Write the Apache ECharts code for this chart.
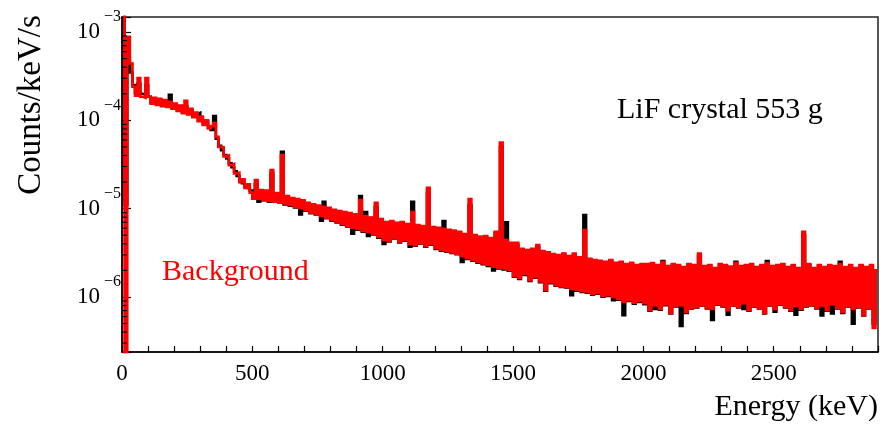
<!DOCTYPE html>
<html><head><meta charset="utf-8">
<script src="https://cdn.jsdelivr.net/npm/echarts@6/dist/echarts.min.js"></script>
<style>html,body{margin:0;padding:0;background:#fff}#c{width:892px;height:426px}</style>
</head><body><div id="c"></div>
<script>
// Histogram bins: 10 keV wide, starting at 0 keV
const binWidth = 10;
const energyMin = 0;
const energyMax = 2900;

// Background spectrum (red), counts/keV/s per 10 keV bin
const background = [
  2e-3, 1e-7, 8.8e-4, 4.4e-4, 2.4e-4, 1.9e-4, 3.0e-4, 1.85e-4, 1.8e-4, 3.0e-4,
  1.85e-4, 1.55e-4, 1.8e-4, 1.5e-4, 1.75e-4, 1.45e-4, 1.7e-4, 1.42e-4, 1.62e-4, 1.36e-4,
  1.55e-4, 1.28e-4, 1.47e-4, 1.21e-4, 1.66e-4, 1.17e-4, 1.35e-4, 1.09e-4, 1.22e-4, 9.8e-5,
  1.1e-4, 8.9e-5, 1.0e-4, 8.1e-5, 8.6e-5, 9.3e-5, 6.5e-5, 5.0e-5, 4.95e-5, 3.9e-5,
  4.0e-5, 3.1e-5, 3.2e-5, 2.5e-5, 2.55e-5, 2.0e-5, 2.15e-5, 1.72e-5, 1.88e-5, 1.52e-5,
  1.3e-5, 2.11e-5, 1.3e-5, 1.62e-5, 1.25e-5, 1.6e-5, 1.22e-5, 2.74e-5, 1.2e-5, 1.5e-5,
  1.18e-5, 4.05e-5, 1.15e-5, 1.39e-5, 1.1e-5, 1.32e-5, 1.05e-5, 1.28e-5, 1.02e-5, 1.24e-5,
  9.6e-6, 1.16e-5, 9.0e-6, 1.12e-5, 8.7e-6, 1.08e-5, 8.25e-6, 1.05e-5, 7.9e-6, 1.02e-5,
  7.4e-6, 9.7e-6, 7.05e-6, 9.4e-6, 6.7e-6, 9.15e-6, 6.4e-6, 8.9e-6, 6.1e-6, 8.6e-6,
  5.9e-6, 1.25e-5, 5.6e-6, 8.25e-6, 5.45e-6, 7.9e-6, 5.15e-6, 1.16e-5, 4.8e-6, 7.6e-6,
  4.41e-6, 7.05e-6, 4.3e-6, 7.25e-6, 4.65e-6, 6.9e-6, 4.2e-6, 7.05e-6, 4.41e-6, 6.7e-6,
  3.97e-6, 9.15e-6, 3.87e-6, 6.5e-6, 4.1e-6, 6.35e-6, 3.77e-6, 1.72e-5, 3.97e-6, 6.2e-6,
  3.58e-6, 6.05e-6, 3.4e-6, 5.9e-6, 3.3e-6, 5.73e-6, 3.2e-6, 5.6e-6, 3.1e-6, 5.45e-6,
  2.9e-6, 5.15e-6, 2.75e-6, 1.28e-5, 2.62e-6, 5.03e-6, 2.5e-6, 4.8e-6, 2.4e-6, 4.9e-6,
  2.3e-6, 4.65e-6, 2.2e-6, 5.45e-6, 2.15e-6, 5.6e-5, 2.1e-6, 4.41e-6, 2.02e-6, 4.1e-6,
  1.72e-6, 4.1e-6, 1.64e-6, 3.5e-6, 1.82e-6, 3.4e-6, 1.55e-6, 3.5e-6, 1.68e-6, 3.87e-6,
  1.5e-6, 3.3e-6, 1.2e-6, 3.2e-6, 1.46e-6, 3.05e-6, 1.36e-6, 2.98e-6, 1.32e-6, 3.1e-6,
  1.3e-6, 2.9e-6, 1.23e-6, 3.1e-6, 1.2e-6, 2.8e-6, 1.16e-6, 5.73e-6, 1.14e-6, 2.7e-6,
  1.08e-6, 2.62e-6, 1.11e-6, 2.56e-6, 1.03e-6, 2.5e-6, 1.05e-6, 2.62e-6, 1.0e-6, 2.43e-6,
  9.5e-7, 2.5e-6, 8.8e-7, 2.35e-6, 9.2e-7, 2.43e-6, 8.6e-7, 2.3e-6, 9.0e-7, 2.35e-6,
  8.5e-7, 2.36e-6, 7.1e-7, 2.42e-6, 8.1e-7, 2.3e-6, 7.3e-7, 2.48e-6, 8.3e-7, 2.24e-6,
  6.6e-7, 2.36e-6, 7.9e-7, 2.3e-6, 8.1e-7, 2.18e-6, 6.75e-7, 2.36e-6, 7.5e-7, 2.3e-6,
  7.7e-7, 3.1e-6, 8.1e-7, 2.24e-6, 7.5e-7, 2.3e-6, 7.3e-7, 2.12e-6, 8.3e-7, 2.36e-6,
  7.9e-7, 2.3e-6, 7.1e-7, 2.2e-6, 8.1e-7, 2.42e-6, 7.7e-7, 2.24e-6, 8.5e-7, 2.3e-6,
  7.1e-7, 2.36e-6, 7.9e-7, 2.18e-6, 7.5e-7, 2.3e-6, 6.6e-7, 2.42e-6, 8.1e-7, 2.24e-6,
  7.3e-7, 2.3e-6, 8.3e-7, 2.36e-6, 7.7e-7, 2.18e-6, 7.1e-7, 2.3e-6, 7.9e-7, 2.12e-6,
  7.3e-7, 5.45e-6, 7.9e-7, 2.36e-6, 8.1e-7, 2.12e-6, 7.5e-7, 2.3e-6, 7.9e-7, 2.18e-6,
  7.1e-7, 2.3e-6, 8.3e-7, 2.24e-6, 7.5e-7, 2.36e-6, 6.75e-7, 2.18e-6, 7.9e-7, 2.3e-6,
  7.3e-7, 2.12e-6, 7.7e-7, 2.3e-6, 6.24e-7, 2.18e-6, 7.5e-7, 2.3e-6, 4.45e-7, 2.0e-6
];

// LiF crystal 553 g spectrum (black), counts/keV/s per 10 keV bin
const lifCrystal = [
  2e-3, 1.1e-5, 5e-4, 3.5e-4, 2.5e-4, 2.05e-4, 2.6e-4, 2.0e-4, 1.95e-4, 2.5e-4,
  1.85e-4, 1.6e-4, 1.78e-4, 1.55e-4, 1.72e-4, 1.5e-4, 1.66e-4, 1.46e-4, 1.94e-4, 1.4e-4,
  1.5e-4, 1.32e-4, 1.43e-4, 1.25e-4, 1.45e-4, 1.22e-4, 1.3e-4, 1.13e-4, 1.17e-4, 1.21e-4,
  1.05e-4, 9.2e-5, 9.7e-5, 8.3e-5, 7.8e-5, 1.12e-4, 6.2e-5, 5.15e-5, 4.6e-5, 4.05e-5,
  3.7e-5, 3.25e-5, 2.95e-5, 2.65e-5, 2.35e-5, 2.15e-5, 1.95e-5, 1.82e-5, 1.72e-5, 1.6e-5,
  1.3e-5, 1.9e-5, 1.2e-5, 1.6e-5, 1.25e-5, 1.55e-5, 1.2e-5, 2.5e-5, 1.2e-5, 1.45e-5,
  1.18e-5, 4.4e-5, 1.12e-5, 1.35e-5, 1.08e-5, 1.3e-5, 1.03e-5, 1.25e-5, 8.6e-6, 1.2e-5,
  9.5e-6, 1.15e-5, 8.9e-6, 1.1e-5, 8.6e-6, 1.05e-5, 7.3e-6, 1.19e-5, 7.8e-6, 1.0e-5,
  7.3e-6, 9.5e-6, 7.0e-6, 9.3e-6, 6.6e-6, 9.0e-6, 6.3e-6, 8.8e-6, 5.2e-6, 8.5e-6,
  5.8e-6, 1.39e-5, 5.5e-6, 9.15e-6, 4.9e-6, 7.8e-6, 5.1e-6, 1.05e-5, 4.7e-6, 7.5e-6,
  4.0e-6, 7.0e-6, 4.25e-6, 7.2e-6, 4.6e-6, 6.8e-6, 4.15e-6, 7.0e-6, 4.35e-6, 6.6e-6,
  3.7e-6, 1.19e-5, 3.8e-6, 6.4e-6, 4.05e-6, 6.3e-6, 3.7e-6, 1.5e-5, 3.9e-6, 6.1e-6,
  3.5e-6, 6.0e-6, 3.35e-6, 7.25e-6, 3.25e-6, 5.7e-6, 3.15e-6, 5.55e-6, 3.05e-6, 5.4e-6,
  2.5e-6, 5.1e-6, 2.7e-6, 1.1e-5, 2.58e-6, 5.0e-6, 2.45e-6, 4.75e-6, 2.35e-6, 4.85e-6,
  2.25e-6, 4.6e-6, 2.0e-6, 5.3e-6, 2.1e-6, 5.0e-5, 2.05e-6, 7.0e-6, 1.98e-6, 4.05e-6,
  1.7e-6, 3.9e-6, 1.6e-6, 3.45e-6, 1.78e-6, 3.35e-6, 1.52e-6, 3.45e-6, 1.65e-6, 3.7e-6,
  1.47e-6, 3.25e-6, 1.18e-6, 3.15e-6, 1.43e-6, 3.0e-6, 1.34e-6, 2.95e-6, 1.3e-6, 3.05e-6,
  1.28e-6, 2.85e-6, 1.05e-6, 3.0e-6, 1.18e-6, 2.75e-6, 1.14e-6, 8.47e-6, 1.12e-6, 2.65e-6,
  1.06e-6, 2.58e-6, 1.09e-6, 2.52e-6, 1.01e-6, 2.46e-6, 1.03e-6, 2.58e-6, 9.2e-7, 2.4e-6,
  9.3e-7, 2.46e-6, 6.24e-7, 2.32e-6, 9.0e-7, 2.4e-6, 8.4e-7, 2.27e-6, 8.8e-7, 2.32e-6,
  8.3e-7, 2.33e-6, 7.0e-7, 2.38e-6, 7.3e-7, 2.27e-6, 7.2e-7, 2.55e-6, 8.1e-7, 2.2e-6,
  6.5e-7, 2.33e-6, 7.8e-7, 2.27e-6, 4.7e-7, 2.15e-6, 6.6e-7, 2.33e-6, 7.4e-7, 2.27e-6,
  7.6e-7, 2.9e-6, 8.0e-7, 2.2e-6, 7.4e-7, 2.27e-6, 5.5e-7, 2.1e-6, 8.2e-7, 2.33e-6,
  7.8e-7, 2.27e-6, 6.3e-7, 2.17e-6, 8.0e-7, 2.5e-6, 7.6e-7, 2.2e-6, 7.3e-7, 2.27e-6,
  7.0e-7, 2.33e-6, 7.8e-7, 2.15e-6, 7.4e-7, 2.27e-6, 6.5e-7, 2.55e-6, 8.0e-7, 2.2e-6,
  6.8e-7, 2.27e-6, 8.2e-7, 2.33e-6, 7.6e-7, 2.15e-6, 7.0e-7, 2.27e-6, 6.3e-7, 2.1e-6,
  7.2e-7, 5.0e-6, 7.8e-7, 2.3e-6, 8.0e-7, 2.1e-6, 7.4e-7, 2.27e-6, 6.2e-7, 2.15e-6,
  7.0e-7, 2.27e-6, 6.5e-7, 2.2e-6, 7.4e-7, 2.5e-6, 6.6e-7, 2.15e-6, 7.8e-7, 2.27e-6,
  5.0e-7, 2.1e-6, 7.6e-7, 2.27e-6, 6.2e-7, 2.15e-6, 7.4e-7, 2.27e-6, 5.0e-7, 2.0e-6
];

// Axis ticks
const xTickLabels = [0, 500, 1000, 1500, 2000, 2500];
const yMin = 2.38e-7;
const yMax = 1.48e-3;
const minorMantissas = [2, 3, 4, 5, 6, 7, 8, 9];
const minorDecades = [1e-7, 1e-6, 1e-5, 1e-4, 1e-3];

const SERIF = '"Liberation Serif", "Times New Roman", serif';

function toSteps(vals) {
  const d = vals.map((v, i) => [energyMin + i * binWidth, v]);
  d.push([energyMin + vals.length * binWidth, vals[vals.length - 1]]);
  return d;
}
const minorTicks = [];
minorDecades.forEach(dec => minorMantissas.forEach(m => {
  const v = m * dec;
  if (v > yMin && v < yMax) minorTicks.push([energyMin, v]);
}));

const chart = echarts.init(document.getElementById('c'), null, { renderer: 'canvas' });
chart.setOption({
  animation: false,
  backgroundColor: '#fff',
  textStyle: { fontFamily: SERIF },
  grid: { left: 122, right: 14, top: 17, bottom: 74, show: true, borderColor: '#222', borderWidth: 1.5, backgroundColor: 'transparent' },
  xAxis: {
    type: 'value', min: energyMin, max: energyMax, interval: 100,
    axisLine: { onZero: false, lineStyle: { color: '#000', width: 1.5 } },
    axisTick: { inside: true, length: 6, lineStyle: { color: '#000', width: 1.2 } },
    splitLine: { show: false },
    axisLabel: { color: '#000', fontSize: 23, fontFamily: SERIF, margin: 10,
      formatter: v => xTickLabels.includes(v) ? String(v) : '' },
    name: 'Energy (keV)', nameLocation: 'end', nameGap: 0,
    nameTextStyle: { color: '#000', fontSize: 30, fontFamily: SERIF, align: 'right', verticalAlign: 'top', padding: [40, 0, 0, 0] }
  },
  yAxis: {
    type: 'log', logBase: 10, min: yMin, max: yMax,
    axisLine: { lineStyle: { color: '#000', width: 1.5 } },
    axisTick: { inside: true, length: 9, lineStyle: { color: '#000', width: 1.2 } },
    splitLine: { show: false },
    minorTick: { show: false },
    axisLabel: {
      margin: 1,
      formatter: v => {
        const e = Math.log10(v), r = Math.round(e);
        if (Math.abs(e - r) > 1e-6) return '';
        return '{b|10}{e|' + (r < 0 ? '\u2212' : '') + Math.abs(r) + '}';
      },
      rich: {
        b: { fontSize: 23, fontFamily: SERIF, color: '#000', lineHeight: 46, verticalAlign: 'middle', padding: [0, 4, 0, 0] },
        e: { fontSize: 16, fontFamily: SERIF, color: '#000', lineHeight: 16, verticalAlign: 'top' }
      }
    }
  },
  graphic: [
    { type: 'text', x: 617, y: 110, style: { text: 'LiF crystal 553 g', fill: '#000', font: '30px ' + SERIF, textAlign: 'left', textVerticalAlign: 'middle' } },
    { type: 'text', x: 162, y: 272, style: { text: 'Background', fill: '#ff0000', font: '30px ' + SERIF, textAlign: 'left', textVerticalAlign: 'middle' } },
    { type: 'text', x: 31, y: 105, rotation: Math.PI / 2, style: { text: 'Counts/keV/s', fill: '#000', font: '33px ' + SERIF, textAlign: 'center', textVerticalAlign: 'middle' } }
  ],
  series: [
    { type: 'line', name: 'LiF crystal 553 g', data: toSteps(lifCrystal), step: 'end', showSymbol: false,
      lineStyle: { color: '#000', width: 2.7, join: 'miter' }, itemStyle: { color: '#000' }, clip: true, z: 2 },
    { type: 'line', name: 'Background', data: toSteps(background), step: 'end', showSymbol: false,
      lineStyle: { color: '#ff0000', width: 2.7, join: 'miter' }, itemStyle: { color: '#ff0000' }, clip: true, z: 3 },
    { type: 'custom', name: 'minor ticks', data: minorTicks, encode: { x: 0, y: 1 }, z: 5, silent: true,
      renderItem: (params, api) => {
        const p = api.coord([api.value(0), api.value(1)]);
        return { type: 'line', shape: { x1: p[0], y1: p[1], x2: p[0] + 5, y2: p[1] }, style: { stroke: '#000', lineWidth: 1.2 } };
      } }
  ]
});
</script>
</body></html>
